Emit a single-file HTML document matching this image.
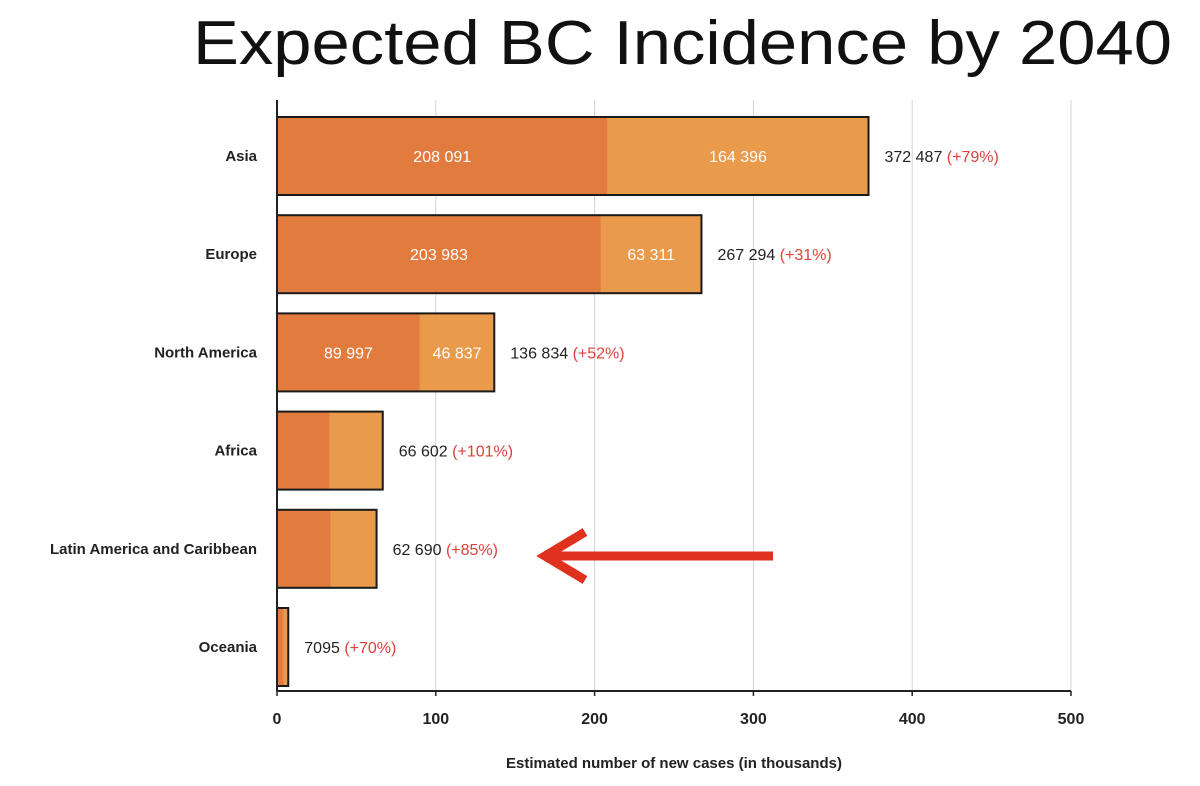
<!DOCTYPE html>
<html><head><meta charset="utf-8"><style>
body{margin:0;background:#fff;width:1200px;height:781px;overflow:hidden;font-family:"Liberation Sans",sans-serif}
</style></head><body>
<svg width="1200" height="781">
<text x="193" y="64" textLength="979" lengthAdjust="spacingAndGlyphs" font-family="Liberation Sans, sans-serif" font-size="62" fill="#111">Expected BC Incidence by 2040</text>
<g id="grid"></g>
<g id="bars"></g>
<g id="axis"></g>
<text x="674" y="768" text-anchor="middle" font-size="15" font-weight="bold" fill="#222">Estimated number of new cases (in thousands)</text>
<g>
<line x1="773" y1="556" x2="548" y2="556" stroke="#e0301e" stroke-width="9"/>
<polyline points="585,532 545,556 585,580" fill="none" stroke="#e0301e" stroke-width="9" stroke-linejoin="miter"/>
</g>
</svg>
<script>
const regions=["Asia","Europe","North America","Africa","Latin America and Caribbean","Oceania"];
const base2020=[208.091,203.983,89.997,33.1,33.9,4.17];
const increase=[164.396,63.311,46.837,33.5,28.8,2.925];
const totals=["372 487","267 294","136 834","66 602","62 690","7095"];
const pcts=["(+79%)","(+31%)","(+52%)","(+101%)","(+85%)","(+70%)"];
const baseLabels=["208 091","203 983","89 997","","",""];
const incLabels=["164 396","63 311","46 837","","",""];
const ticks=[0,100,200,300,400,500];
const NS="http://www.w3.org/2000/svg";
const x0=277,x1=1071,yTop=117,step=98.2,bh=78,axisY=691;
const xs=v=>x0+(x1-x0)*v/500;
function mk(t,a,p){const e=document.createElementNS(NS,t);for(const k in a)e.setAttribute(k,a[k]);p.appendChild(e);return e;}
const grid=document.getElementById('grid'),bars=document.getElementById('bars'),axis=document.getElementById('axis');
ticks.forEach(t=>{
 if(t>0){const g=mk('line',{x1:xs(t),x2:xs(t),y1:100,y2:axisY,stroke:'#d4d4d4','stroke-width':1},grid);
 
 }
 const tl=mk('text',{x:xs(t),y:724,'text-anchor':'middle','font-size':16,'font-weight':'bold',fill:'#222'},axis);tl.textContent=t;
 
 
 mk('line',{x1:xs(t),x2:xs(t),y1:axisY,y2:axisY+5,stroke:'#222','stroke-width':1.5},axis);
});
mk('line',{x1:x0,x2:x1,y1:axisY,y2:axisY,stroke:'#222','stroke-width':2},axis);
mk('line',{x1:x0,x2:x0,y1:100,y2:axisY,stroke:'#222','stroke-width':2},axis);
regions.forEach((r,i)=>{
 const y=yTop+i*step,cy=y+bh/2,tot=base2020[i]+increase[i];
 const lab=mk('text',{x:257,y:cy+5,'text-anchor':'end','font-size':15,'font-weight':'bold',fill:'#222'},bars);lab.textContent=r;
 
 
 const b1=mk('rect',{x:x0,y:y,width:xs(base2020[i])-x0,height:bh,fill:'#e27b3e'},bars);
 
 
 const b2=mk('rect',{x:xs(base2020[i]),y:y,width:xs(tot)-xs(base2020[i]),height:bh,fill:'#e99a4a'},bars);
 
 
 mk('rect',{x:x0,y:y,width:xs(tot)-x0,height:bh,fill:'none',stroke:'#1a1a1a','stroke-width':2},bars);
 if(baseLabels[i]){const t=mk('text',{x:(x0+xs(base2020[i]))/2,y:cy+6,'text-anchor':'middle','font-size':16,fill:'#fff'},bars);t.textContent=baseLabels[i];}
 if(incLabels[i]){const t=mk('text',{x:(xs(base2020[i])+xs(tot))/2,y:cy+6,'text-anchor':'middle','font-size':16,fill:'#fff'},bars);t.textContent=incLabels[i];}
 const v=mk('text',{x:xs(tot)+16,y:cy+6,'font-size':16,fill:'#222'},bars);
 
 
 v.textContent=totals[i]+' ';
 const s=document.createElementNS(NS,'tspan');s.setAttribute('fill','#e0403a');s.textContent=pcts[i];v.appendChild(s);
});
</script>
</body></html>
